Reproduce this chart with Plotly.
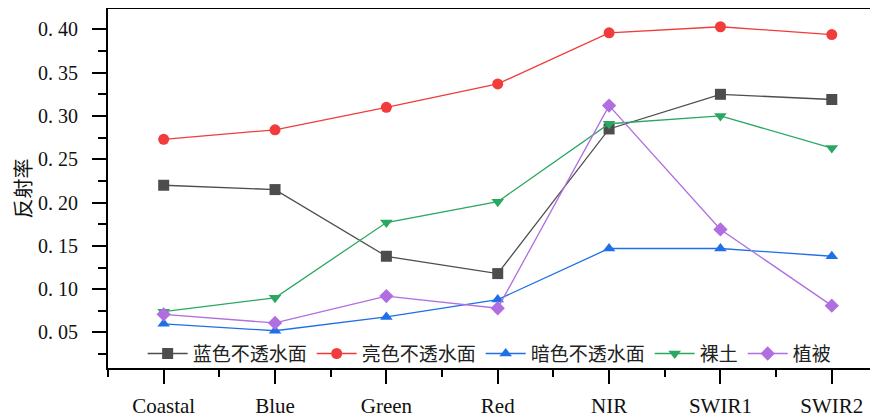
import plotly.graph_objects as go

categories = ["Coastal", "Blue", "Green", "Red", "NIR", "SWIR1", "SWIR2"]
series_names = ["蓝色不透水面", "亮色不透水面", "暗色不透水面", "裸土", "植被"]
blue_imperv = [0.220, 0.215, 0.138, 0.118, 0.285, 0.325, 0.319]
bright_imperv = [0.273, 0.284, 0.310, 0.337, 0.396, 0.403, 0.394]
dark_imperv = [0.060, 0.052, 0.068, 0.088, 0.147, 0.147, 0.138]
bare_soil = [0.074, 0.090, 0.177, 0.201, 0.291, 0.300, 0.263]
vegetation = [0.071, 0.061, 0.092, 0.078, 0.312, 0.169, 0.081]
y_ticks = [0.05, 0.10, 0.15, 0.20, 0.25, 0.30, 0.35, 0.40]
y_tick_labels = ["0. 05", "0. 10", "0. 15", "0. 20", "0. 25", "0. 30", "0. 35", "0. 40"]

all_values = [blue_imperv, bright_imperv, dark_imperv, bare_soil, vegetation]
colors = ["#4d4d4d", "#f23b3b", "#1f6fe6", "#2aa862", "#b06ee0"]
symbols = ["square", "circle", "triangle-up", "triangle-down", "diamond"]

xs = list(range(len(categories)))
fig = go.Figure()
for name, vals, c, s in zip(series_names, all_values, colors, symbols):
    fig.add_trace(go.Scatter(
        x=xs, y=vals, name=name, mode="lines+markers",
        line=dict(color=c, width=1.3),
        marker=dict(color=c, symbol=s, size=11, line=dict(width=0)),
    ))

serif = "Liberation Serif"
fig.update_layout(
    width=878, height=417,
    margin=dict(l=100, r=8, t=1, b=57, autoexpand=False),
    plot_bgcolor="white", paper_bgcolor="white",
    font=dict(family=serif, size=19, color="#111"),
    legend=dict(
        orientation="h", x=0.045, y=0.04, xanchor="left", yanchor="middle",
        bgcolor="rgba(0,0,0,0)", font=dict(family="Noto Sans CJK SC", size=19, color="#222"),
        itemwidth=40, tracegroupgap=0,
    ),
    showlegend=True,
)
fig.update_xaxes(
    range=[-0.5, 6.415], tickvals=xs, ticktext=categories, automargin=False,
    showline=True, linecolor="black", linewidth=2, mirror=True,
    ticks="outside", ticklen=14, tickwidth=2, tickcolor="black",
    minor=dict(tickvals=[i + 0.5 for i in range(-1, 7)], ticks="outside", ticklen=7, tickwidth=2, tickcolor="black"),
    showgrid=False, zeroline=False, ticklabelstandoff=4,
    tickfont=dict(family=serif, size=21),
)
fig.update_yaxes(
    range=[0.009, 0.4235], tickvals=y_ticks, ticktext=y_tick_labels, automargin=False,
    showline=True, linecolor="black", linewidth=2,
    ticks="outside", ticklen=14, tickwidth=2, tickcolor="black",
    minor=dict(tickvals=[0.025 + 0.05 * i for i in range(9)], ticks="outside", ticklen=8, tickwidth=2, tickcolor="black"),
    showgrid=False, zeroline=False, ticklabelstandoff=10,
    tickfont=dict(family=serif, size=20),
    title=dict(text="反射率", font=dict(family="Noto Sans CJK SC", size=20), standoff=8),
)
fig.write_html("out.html")
